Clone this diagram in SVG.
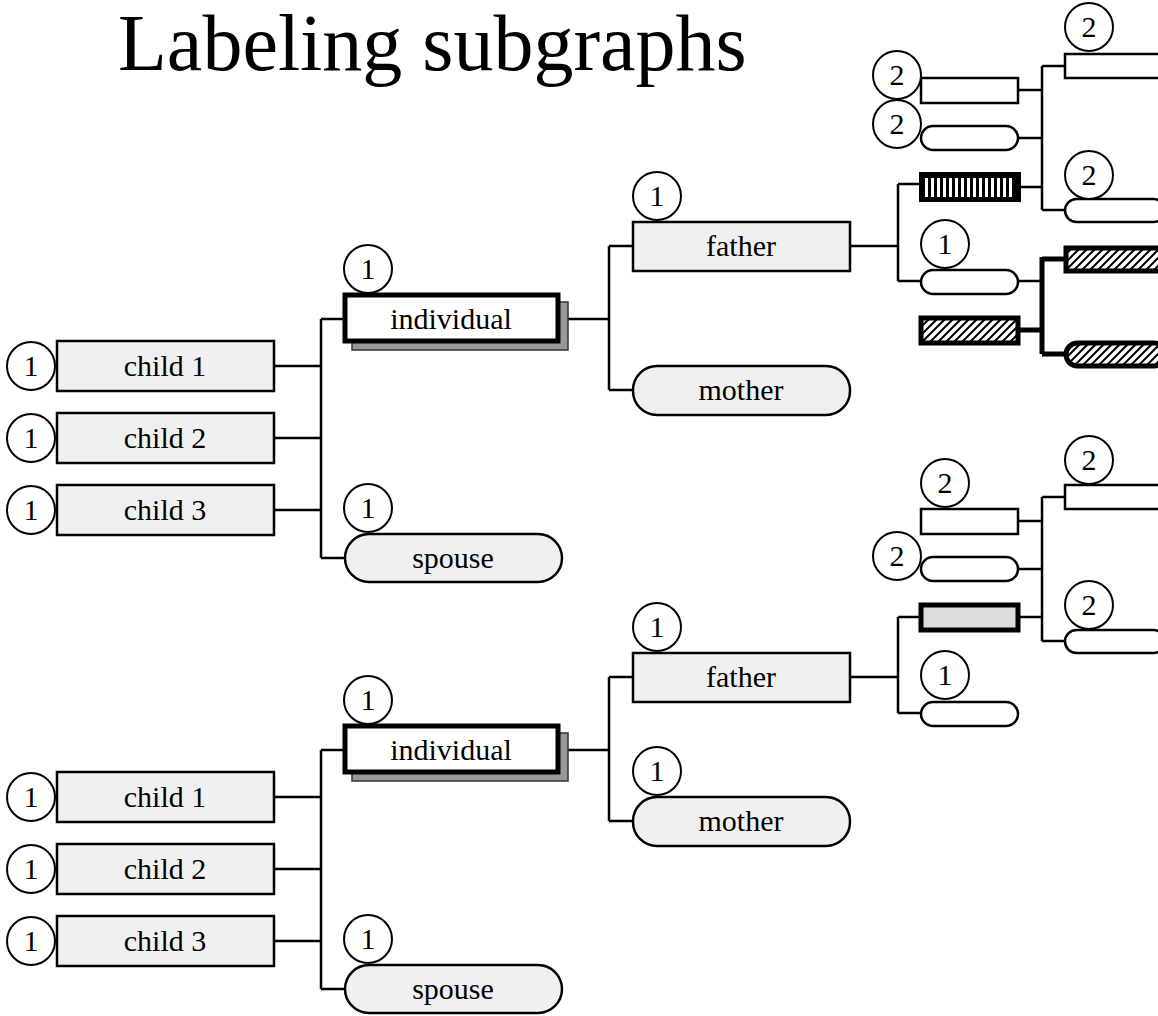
<svg xmlns="http://www.w3.org/2000/svg" width="1158" height="1016" viewBox="0 0 1158 1016">
<style>
text{font-family:"Liberation Serif","Times New Roman",serif;fill:#000}
.lbl{font-size:30px;text-anchor:middle}
.num{font-size:30px;text-anchor:middle}
.box{fill:#f0f0f0;stroke:#000;stroke-width:2.5}
.wbox{fill:#fff;stroke:#000;stroke-width:2.5}
.circ{fill:#fff;stroke:#000;stroke-width:2}
.thick{fill:#fff;stroke:#000;stroke-width:5}
.shadow{fill:#999;stroke:#333;stroke-width:1.5}
.hatch{fill:url(#diag);stroke:#000;stroke-width:5}
.conn path{fill:none;stroke:#000;stroke-width:2.5}
.conn path.tk{stroke-width:5}
</style>
<defs>
<pattern id="diag" patternUnits="userSpaceOnUse" width="8" height="8">
<rect width="8" height="8" fill="#fff"/>
<path d="M-2 2 L2 -2 M0 8 L8 0 M6 10 L10 6" stroke="#000" stroke-width="2"/>
</pattern>
<pattern id="vstripe" patternUnits="userSpaceOnUse" width="6" height="10" x="925">
<rect width="6" height="10" fill="#000"/>
<rect x="0" width="3" height="10" fill="#fff"/>
</pattern>
</defs>
<rect width="1158" height="1016" fill="#fff"/>
<text x="118" y="70" style="font-size:80px">Labeling subgraphs</text>

<g class="conn" id="connectors">
<!-- group 1 -->
<path d="M274 366 H321 M274 438 H321 M274 510 H321 M321 319 V558 M321 319 H343 M321 558 H345"/>
<path d="M560 319 H609 M609 246 V390 M609 246 H633 M609 390 H633"/>
<path d="M850 246 H898 M898 184 V281 M898 184 H919 M898 281 H921"/>
<path d="M1018 90 H1042 M1018 138 H1042 M1021 187 H1042 M1042 66 V210 M1042 66 H1065 M1042 210 H1065"/>
<path d="M1018 281 H1042"/>
<path class="tk" d="M1042 257 V354 M1042 259 H1065 M1019 330 H1042 M1042 354 H1065"/>
<!-- group 2 -->
<path d="M274 797 H321 M274 869 H321 M274 941 H321 M321 750 V989 M321 750 H343 M321 989 H345"/>
<path d="M560 750 H609 M609 677 V821 M609 677 H633 M609 821 H633"/>
<path d="M850 677 H898 M898 617 V713 M898 617 H919 M898 713 H921"/>
<path d="M1019 617 H1042 M1018 521 H1042 M1018 569 H1042 M1042 497 V641 M1042 497 H1065 M1042 641 H1065"/>
</g>

<!-- ===== group 1 ===== -->
<g id="g1-child1"><circle class="circ" cx="31" cy="366" r="24"/><text class="num" x="31" y="376">1</text><rect class="box" x="57" y="341" width="217" height="50"/><text class="lbl" x="165" y="376">child 1</text></g>
<g id="g1-child2"><circle class="circ" cx="31" cy="438" r="24"/><text class="num" x="31" y="448">1</text><rect class="box" x="57" y="413" width="217" height="50"/><text class="lbl" x="165" y="448">child 2</text></g>
<g id="g1-child3"><circle class="circ" cx="31" cy="510" r="24"/><text class="num" x="31" y="520">1</text><rect class="box" x="57" y="485" width="217" height="50"/><text class="lbl" x="165" y="520">child 3</text></g>
<g id="g1-individual"><rect class="shadow" x="352" y="302" width="216" height="48"/><rect class="thick" x="345" y="295" width="213" height="46"/><text class="lbl" x="451" y="329">individual</text><circle class="circ" cx="368" cy="269" r="24"/><text class="num" x="368" y="279">1</text></g>
<g id="g1-spouse"><rect class="box" x="345" y="534" width="217" height="48" rx="24"/><text class="lbl" x="453" y="568">spouse</text><circle class="circ" cx="368" cy="508" r="24"/><text class="num" x="368" y="518">1</text></g>
<g id="g1-father"><rect class="box" x="633" y="222" width="217" height="49"/><text class="lbl" x="741" y="256">father</text><circle class="circ" cx="657" cy="196" r="24"/><text class="num" x="657" y="206">1</text></g>
<g id="g1-mother"><rect class="box" x="633" y="366" width="217" height="49" rx="24"/><text class="lbl" x="741" y="400">mother</text></g>
<g id="g1-r1"><rect class="wbox" x="1065" y="54" width="100" height="24"/><circle class="circ" cx="1089" cy="27" r="24"/><text class="num" x="1089" y="37">2</text></g>
<g id="g1-l1"><rect class="wbox" x="921" y="78" width="97" height="25"/><circle class="circ" cx="897" cy="75" r="24"/><text class="num" x="897" y="85">2</text></g>
<g id="g1-l2"><rect class="wbox" x="921" y="126" width="97" height="24" rx="12"/><circle class="circ" cx="897" cy="124" r="24"/><text class="num" x="897" y="134">2</text></g>
<g id="g1-stripes"><rect x="919" y="172" width="102" height="30" fill="#000"/><rect x="925" y="178" width="90" height="19" fill="url(#vstripe)"/></g>
<g id="g1-r2"><rect class="wbox" x="1065" y="199" width="100" height="23" rx="11.5"/><circle class="circ" cx="1089" cy="175" r="24"/><text class="num" x="1089" y="185">2</text></g>
<g id="g1-p1"><rect class="wbox" x="921" y="270" width="97" height="24" rx="12"/><circle class="circ" cx="945" cy="244" r="24"/><text class="num" x="945" y="254">1</text></g>
<g id="g1-h1"><rect class="hatch" x="1066" y="248" width="100" height="23"/></g>
<g id="g1-h2"><rect class="hatch" x="921" y="318" width="97" height="25"/></g>
<g id="g1-h3"><rect class="hatch" x="1066" y="343" width="100" height="23" rx="11.5"/></g>

<!-- ===== group 2 ===== -->
<g id="g2-child1"><circle class="circ" cx="31" cy="797" r="24"/><text class="num" x="31" y="807">1</text><rect class="box" x="57" y="772" width="217" height="50"/><text class="lbl" x="165" y="807">child 1</text></g>
<g id="g2-child2"><circle class="circ" cx="31" cy="869" r="24"/><text class="num" x="31" y="879">1</text><rect class="box" x="57" y="844" width="217" height="50"/><text class="lbl" x="165" y="879">child 2</text></g>
<g id="g2-child3"><circle class="circ" cx="31" cy="941" r="24"/><text class="num" x="31" y="951">1</text><rect class="box" x="57" y="916" width="217" height="50"/><text class="lbl" x="165" y="951">child 3</text></g>
<g id="g2-individual"><rect class="shadow" x="352" y="733" width="216" height="48"/><rect class="thick" x="345" y="726" width="213" height="46"/><text class="lbl" x="451" y="760">individual</text><circle class="circ" cx="368" cy="700" r="24"/><text class="num" x="368" y="710">1</text></g>
<g id="g2-spouse"><rect class="box" x="345" y="965" width="217" height="48" rx="24"/><text class="lbl" x="453" y="999">spouse</text><circle class="circ" cx="368" cy="939" r="24"/><text class="num" x="368" y="949">1</text></g>
<g id="g2-father"><rect class="box" x="633" y="653" width="217" height="49"/><text class="lbl" x="741" y="687">father</text><circle class="circ" cx="657" cy="627" r="24"/><text class="num" x="657" y="637">1</text></g>
<g id="g2-mother"><rect class="box" x="633" y="797" width="217" height="49" rx="24"/><text class="lbl" x="741" y="831">mother</text><circle class="circ" cx="657" cy="771" r="24"/><text class="num" x="657" y="781">1</text></g>
<g id="g2-r1"><rect class="wbox" x="1065" y="485" width="100" height="24"/><circle class="circ" cx="1089" cy="460" r="24"/><text class="num" x="1089" y="470">2</text></g>
<g id="g2-l1"><rect class="wbox" x="921" y="509" width="97" height="25"/><circle class="circ" cx="945" cy="483" r="24"/><text class="num" x="945" y="493">2</text></g>
<g id="g2-l2"><rect class="wbox" x="921" y="557" width="97" height="24" rx="12"/><circle class="circ" cx="897" cy="556" r="24"/><text class="num" x="897" y="566">2</text></g>
<g id="g2-gray"><rect x="921" y="605" width="97" height="25" fill="#dcdcdc" stroke="#000" stroke-width="5"/></g>
<g id="g2-r2"><rect class="wbox" x="1065" y="630" width="100" height="23" rx="11.5"/><circle class="circ" cx="1089" cy="605" r="24"/><text class="num" x="1089" y="615">2</text></g>
<g id="g2-p1"><rect class="wbox" x="921" y="702" width="97" height="24" rx="12"/><circle class="circ" cx="945" cy="675" r="24"/><text class="num" x="945" y="685">1</text></g>
</svg>
